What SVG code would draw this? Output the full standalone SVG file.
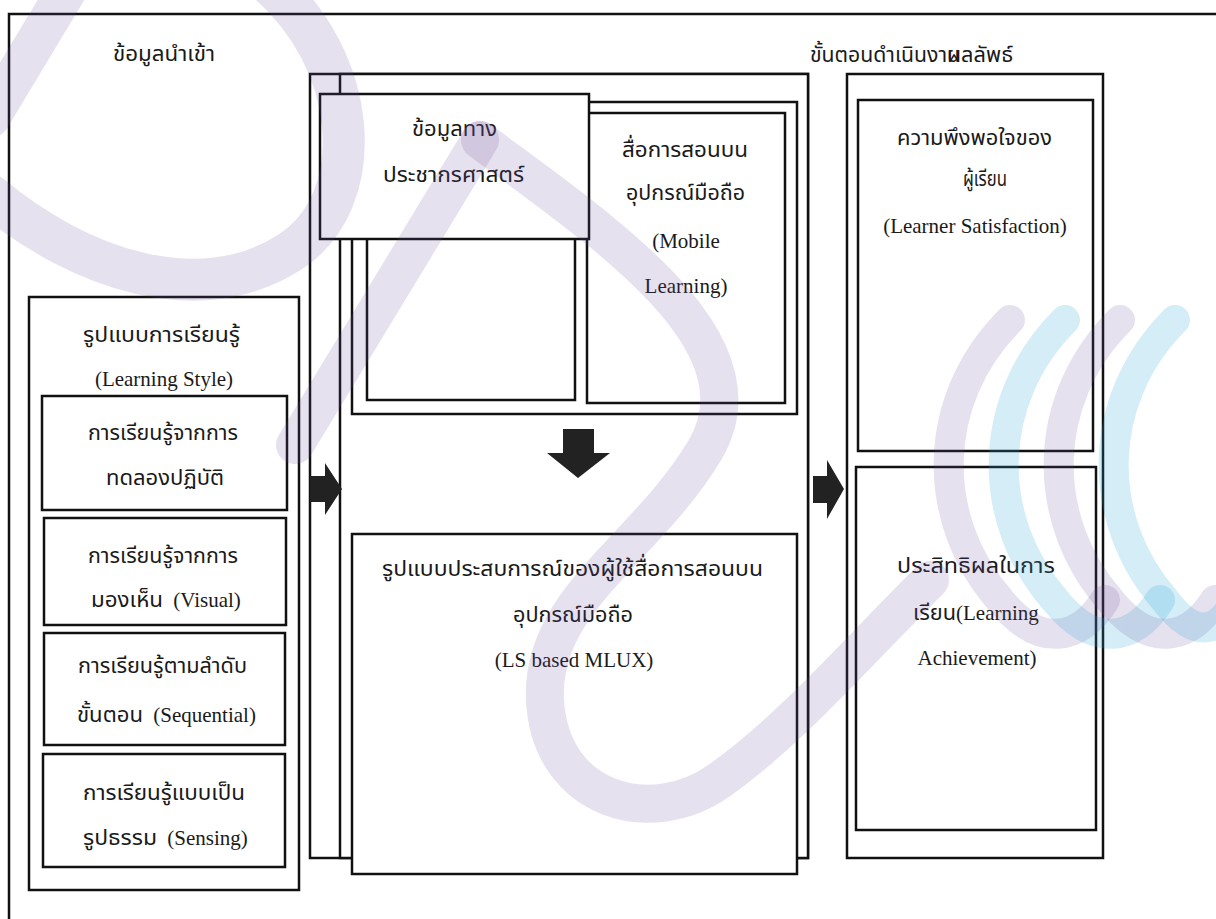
<svg xmlns="http://www.w3.org/2000/svg" width="1216" height="919" viewBox="0 0 1216 919">
<style>
.bx{fill:#fff;stroke:#111;stroke-width:2.5}
.ln{fill:none;stroke:#111;stroke-width:2.5}
.th{font-family:"Noto Sans Thai","Noto Serif Thai","Liberation Serif",serif;font-size:22px;fill:#1a1a1a}
.en{font-family:"Liberation Serif","Times New Roman",serif;font-size:21px;fill:#1a1a1a}
.ar{fill:#222}
.wl{fill:none;stroke:#6a4c9c;stroke-opacity:0.17;stroke-linecap:round}
.wc{fill:none;stroke:#2aa7d8;stroke-opacity:0.2;stroke-linecap:round}
</style>
<rect width="1216" height="919" fill="#fff"/>
<g id="frame">
<path class="ln" d="M9,919 V14 H1216"/>
</g>
<g id="headers">
<text class="th" x="113" y="61" textLength="102" lengthAdjust="spacingAndGlyphs">ข้อมูลนำเข้า</text>
<text class="th" x="810" y="62" textLength="150" lengthAdjust="spacingAndGlyphs">ขั้นตอนดำเนินงาน</text>
<text class="th" x="947" y="62" textLength="66" lengthAdjust="spacingAndGlyphs">ผลลัพธ์</text>
</g>
<g id="learning-style">
<rect class="bx" x="29" y="297" width="270" height="593"/>
<text class="th" x="83" y="342" textLength="157" lengthAdjust="spacingAndGlyphs">รูปแบบการเรียนรู้</text>
<text class="en" x="164" y="386" text-anchor="middle">(Learning Style)</text>
</g>
<g id="ls-active">
<rect class="bx" x="42" y="396" width="245" height="114"/>
<text class="th" x="88" y="440" textLength="150" lengthAdjust="spacingAndGlyphs">การเรียนรู้จากการ</text>
<text class="th" x="106" y="485" textLength="118" lengthAdjust="spacingAndGlyphs">ทดลองปฏิบัติ</text>
</g>
<g id="ls-visual">
<rect class="bx" x="44" y="518" width="242" height="107"/>
<text class="th" x="88" y="563" textLength="150" lengthAdjust="spacingAndGlyphs">การเรียนรู้จากการ</text>
<text x="91" y="607"><tspan class="th" textLength="72" lengthAdjust="spacingAndGlyphs">มองเห็น</tspan><tspan class="en" x="168"> (Visual)</tspan></text>
</g>
<g id="ls-sequential">
<rect class="bx" x="44" y="633" width="241" height="112"/>
<text class="th" x="78" y="673" textLength="169" lengthAdjust="spacingAndGlyphs">การเรียนรู้ตามลำดับ</text>
<text x="77" y="722"><tspan class="th" textLength="66" lengthAdjust="spacingAndGlyphs">ขั้นตอน</tspan><tspan class="en" x="148"> (Sequential)</tspan></text>
</g>
<g id="ls-sensing">
<rect class="bx" x="43" y="754" width="242" height="113"/>
<text class="th" x="83" y="800" textLength="162" lengthAdjust="spacingAndGlyphs">การเรียนรู้แบบเป็น</text>
<text x="83" y="845"><tspan class="th" textLength="74" lengthAdjust="spacingAndGlyphs">รูปธรรม</tspan><tspan class="en" x="162"> (Sensing)</tspan></text>
</g>
<g id="process">
<rect class="bx" x="310" y="74" width="498" height="784"/>
<rect class="bx" x="340" y="74" width="468" height="784"/>
</g>
<g id="media-group">
<rect class="bx" x="352" y="102" width="445" height="312"/>
<rect class="bx" x="367" y="113" width="208" height="287"/>
</g>
<g id="mobile-learning">
<rect class="bx" x="587" y="113" width="198" height="290"/>
<text class="th" x="622" y="157" textLength="126" lengthAdjust="spacingAndGlyphs">สื่อการสอนบน</text>
<text class="th" x="626" y="200" textLength="119" lengthAdjust="spacingAndGlyphs">อุปกรณ์มือถือ</text>
<text class="en" x="686" y="248" text-anchor="middle">(Mobile</text>
<text class="en" x="686" y="293" text-anchor="middle">Learning)</text>
</g>
<g id="demographic">
<rect class="bx" x="320" y="94" width="269" height="145"/>
<text class="th" x="412" y="136" textLength="85" lengthAdjust="spacingAndGlyphs">ข้อมูลทาง</text>
<text class="th" x="383" y="182" textLength="141" lengthAdjust="spacingAndGlyphs">ประชากรศาสตร์</text>
</g>
<g id="mlux">
<rect class="bx" x="352" y="534" width="445" height="340"/>
<text class="th" x="382" y="576" textLength="381" lengthAdjust="spacingAndGlyphs">รูปแบบประสบการณ์ของผู้ใช้สื่อการสอนบน</text>
<text class="th" x="513" y="622" textLength="120" lengthAdjust="spacingAndGlyphs">อุปกรณ์มือถือ</text>
<text class="en" x="574" y="667" text-anchor="middle">(LS based MLUX)</text>
</g>
<g id="outcome">
<rect class="bx" x="847" y="74" width="256" height="784"/>
</g>
<g id="satisfaction">
<rect class="bx" x="858" y="100" width="235" height="351"/>
<text class="th" x="897" y="145" textLength="155" lengthAdjust="spacingAndGlyphs">ความพึงพอใจของ</text>
<text class="th" x="963" y="186" textLength="44" lengthAdjust="spacingAndGlyphs">ผู้เรียน</text>
<text class="en" x="975" y="233" text-anchor="middle">(Learner Satisfaction)</text>
</g>
<g id="achievement">
<rect class="bx" x="856" y="467" width="240" height="363"/>
<text class="th" x="897" y="573" textLength="158" lengthAdjust="spacingAndGlyphs">ประสิทธิผลในการ</text>
<text x="913" y="620"><tspan class="th" textLength="43" lengthAdjust="spacingAndGlyphs">เรียน</tspan><tspan class="en" x="956">(Learning</tspan></text>
<text class="en" x="977" y="665" text-anchor="middle">Achievement)</text>
</g>
<g id="connectors">
<path class="ar" d="M310,476 H325 V463 L342,489 L325,515 V502 H310 Z"/>
<path class="ar" d="M813,476 H827 V460 L844,489 L827,519 V503 H813 Z"/>
<path class="ar" d="M563,429 H594 V453 H610 L578,478 L547,453 H563 Z"/>
</g>
<g id="watermark">
<path class="wl" stroke-width="40" d="M-10,118 L70,-15"/>
<path class="wl" stroke-width="42" d="M265,-20 C360,60 370,200 290,252 C200,310 80,270 -10,195"/>
<path class="wl" stroke-width="38" d="M295,445 L480,140"/>
<path class="wl" stroke-width="38" d="M480,140 C600,230 770,340 705,450 C645,550 540,600 545,700 C550,800 650,830 720,780 C790,730 850,660 930,580"/>
<path class="wl" stroke-width="30" d="M1010,320 C930,400 930,520 1000,600 C1040,650 1080,640 1105,600"/>
<path class="wc" stroke-width="30" d="M1065,320 C985,400 985,520 1055,600 C1095,650 1135,640 1160,600"/>
<path class="wl" stroke-width="30" d="M1120,320 C1040,400 1040,520 1110,600 C1150,650 1190,640 1215,600"/>
<path class="wc" stroke-width="30" d="M1175,320 C1095,400 1095,520 1165,600 C1195,640 1216,630 1230,610"/>
</g>
</svg>
